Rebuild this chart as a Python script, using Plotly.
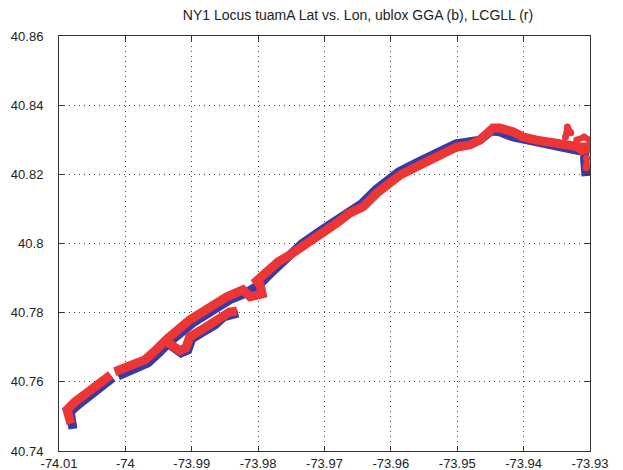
import plotly.graph_objects as go

# ublox GGA track (blue)
blue_lon = [-74.0079, -74.0083, -74.0083, -74.0071, -74.0052, -74.0026, -74.0019, None,
            -74.0011, -73.9992, -73.9966, -73.9951, -73.9933, -73.9898, -73.9868, -73.9843,
            -73.9818, -73.9797, -73.9779, -73.9767, -73.9752, -73.9734, -73.9708, -73.9683,
            -73.9663, -73.9644, -73.9623, -73.9603, -73.9588, -73.9558, -73.9528, -73.9502,
            -73.9483, -73.9466, -73.9449, -73.9436, -73.9416, -73.9391, -73.9365, -73.9335,
            -73.9315, -73.9308, -73.9308, -73.9308, -73.9306]
blue_lat = [40.7464, 40.7496, 40.7513, 40.7534, 40.7560, 40.7597, 40.7612, None,
            40.7617, 40.7632, 40.7655, 40.7681, 40.7716, 40.7771, 40.7808, 40.7837,
            40.7857, 40.7883, 40.7918, 40.7941, 40.7964, 40.7999, 40.8034, 40.8068,
            40.8097, 40.8115, 40.8155, 40.8184, 40.8207, 40.8236, 40.8265, 40.8288,
            40.8294, 40.8299, 40.8325, 40.8323, 40.8308, 40.8297, 40.8285, 40.8273,
            40.8268, 40.8265, 40.8242, 40.8204, 40.8195]
blue_branch_lon = [-73.9937, -73.9927, -73.9916, -73.9906, -73.9900, -73.9885, -73.9865,
                   -73.9852, -73.9840, -73.9830]
blue_branch_lat = [40.7713, 40.7698, 40.7684, 40.7692, 40.7724, 40.7742, 40.7765,
                   40.7788, 40.7797, 40.7799]

# LCGLL track (red)
red_lon = [-74.0082, -74.0088, -74.0088, -74.0076, -74.0056, -74.0031, -74.0022, None,
           -74.0016, -73.9996, -73.9970, -73.9955, -73.9937, -73.9903, -73.9873, -73.9847,
           -73.9823, -73.9812, -73.9794, -73.9797, -73.9802, -73.9782, -73.9770, -73.9752,
           -73.9733, -73.9707, -73.9681, -73.9662, -73.9642, -73.9621, -73.9602, -73.9586,
           -73.9556, -73.9526, -73.9501, -73.9481, -73.9466, -73.9446, -73.9436, -73.9416,
           -73.9401, -73.9380, -73.9356, -73.9335, -73.9315, -73.9303]
red_lat = [40.7479, 40.7505, 40.7519, 40.7542, 40.7568, 40.7606, 40.7620, None,
           40.7629, 40.7643, 40.7664, 40.7690, 40.7724, 40.7779, 40.7817, 40.7846,
           40.7866, 40.7846, 40.7854, 40.7880, 40.7892, 40.7924, 40.7947, 40.7967,
           40.7990, 40.8025, 40.8060, 40.8088, 40.8106, 40.8146, 40.8175, 40.8198,
           40.8227, 40.8256, 40.8279, 40.8285, 40.8299, 40.8334, 40.8334, 40.8323,
           40.8308, 40.8299, 40.8291, 40.8282, 40.8279, 40.8279]
red_branch_lon = [-73.9940, -73.9930, -73.9918, -73.9909, -73.9903, -73.9888, -73.9868,
                  -73.9855, -73.9843, -73.9832]
red_branch_lat = [40.7719, 40.7704, 40.7690, 40.7698, 40.7730, 40.7747, 40.7771,
                  40.7794, 40.7802, 40.7805]
red_end_lon = [-73.9337, -73.9334, -73.9329, None, -73.9320, -73.9309, -73.9300, -73.9302,
               -73.9312, -73.9320, None, -73.9305, -73.9306]
red_end_lat = [40.8308, 40.8337, 40.8320, None, 40.8299, 40.8308, 40.8299, 40.8271,
               40.8265, 40.8276, None, 40.8247, 40.8219]

x_ticks = [-74.01, -74.0, -73.99, -73.98, -73.97, -73.96, -73.95, -73.94, -73.93]
x_labels = ["-74.01", "-74", "-73.99", "-73.98", "-73.97", "-73.96", "-73.95", "-73.94", "-73.93"]
y_ticks = [40.74, 40.76, 40.78, 40.80, 40.82, 40.84, 40.86]
y_labels = ["40.74", "40.76", "40.78", "40.8", "40.82", "40.84", "40.86"]

BLUE = "#3a3aa6"
RED = "#ec3535"
W = 9

fig = go.Figure()
for lon, lat in [(blue_lon, blue_lat), (blue_branch_lon, blue_branch_lat)]:
    fig.add_trace(go.Scatter(x=lon, y=lat, mode="lines",
                             line=dict(color=BLUE, width=W), showlegend=False))
for lon, lat in [(red_lon, red_lat), (red_branch_lon, red_branch_lat)]:
    fig.add_trace(go.Scatter(x=lon, y=lat, mode="lines",
                             line=dict(color=RED, width=W), showlegend=False))
fig.add_trace(go.Scatter(x=red_end_lon, y=red_end_lat, mode="lines+markers",
                         line=dict(color=RED, width=6), marker=dict(color=RED, size=7),
                         showlegend=False))

axis_common = dict(showline=True, linecolor="#333", linewidth=1, mirror="ticks",
                   ticks="inside", ticklen=5, tickcolor="#333", automargin=False,
                   showgrid=True, gridcolor="#444", gridwidth=1, griddash="1px,4px",
                   zeroline=False, tickfont=dict(family="Liberation Sans, Arial", size=13, color="#222"))

fig.update_xaxes(range=[-74.01, -73.93], tickvals=x_ticks, ticktext=x_labels,
                 ticklabelstandoff=0, **axis_common)
fig.update_yaxes(range=[40.74, 40.86], tickvals=y_ticks, ticktext=y_labels,
                 ticklabelstandoff=12, **axis_common)

# the page body adds 8px around the figure; size and margins compensate for it
fig.update_layout(
    width=615, height=462,
    margin=dict(l=51, r=33, t=28, b=19, pad=0, autoexpand=False),
    paper_bgcolor="white", plot_bgcolor="white",
    title=dict(text="NY1 Locus tuamA Lat vs. Lon, ublox GGA (b), LCGLL (r)",
               x=350 / 615, xanchor="center", y=1 - 7 / 462, yanchor="middle",
               font=dict(family="Liberation Sans, Arial", size=14, color="#222")),
)

fig.write_html("out.html")
